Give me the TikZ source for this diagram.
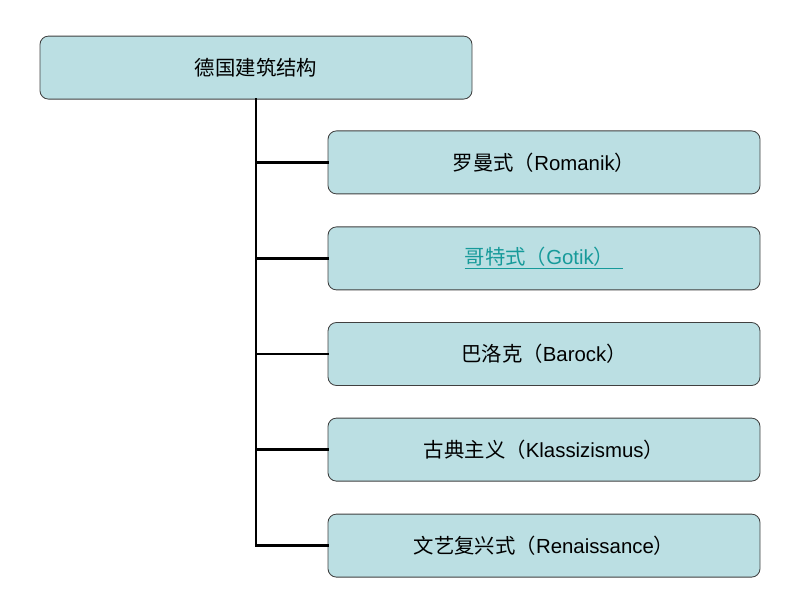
\documentclass[tikz,border=0pt]{standalone}
\usepackage{fontspec}
\setmainfont{Liberation Sans}
\newfontfamily\cjk{Noto Sans CJK SC}
\usetikzlibrary{positioning,calc}
\definecolor{boxfill}{HTML}{BBDFE3}
\definecolor{linkcol}{HTML}{169A9A}

\begin{document}
\begin{tikzpicture}
            \tikzstyle{box}=[rectangle, rounded corners=6pt, draw=black!75,
            fill=boxfill, line width=0.6pt, minimum width=10.8cm,
            minimum height=1.575cm, font=\fontsize{14.5}{17}\selectfont]
            \tikzstyle{tree}=[line width=2pt, line cap=rect]
            \useasboundingbox (0,0) rectangle (20,-15);

            \node[box] (top) at (6.4,-1.69) {\cjk 德国建筑结构};

            \node[box] (a) at (13.6,-4.06) {{\cjk 罗曼式（}Romanik{\cjk ）}};
            \node[box] (b) at (13.6,-6.46)
                {\color{linkcol}\underline{{\cjk 哥特式（}Gotik{\cjk ）}\ \,}};
            \node[box] (c) at (13.6,-8.85) {{\cjk 巴洛克（}Barock{\cjk ）}};
            \node[box] (d) at (13.6,-11.24)
                {{\cjk 古典主义（}Klassizismus{\cjk ）}};
            \node[box] (e) at (13.6,-13.64)
                {{\cjk 文艺复兴式（}Renaissance{\cjk ）}};

            \coordinate (corner) at (top.south |- e.west);
            \draw[tree] (top.south) -- (corner) -- (e.west);
            \foreach \n in {a,b,c,d}
                \draw[tree] (top.south |- \n.west) -- (\n.west);
        \end{tikzpicture}
\end{document}
